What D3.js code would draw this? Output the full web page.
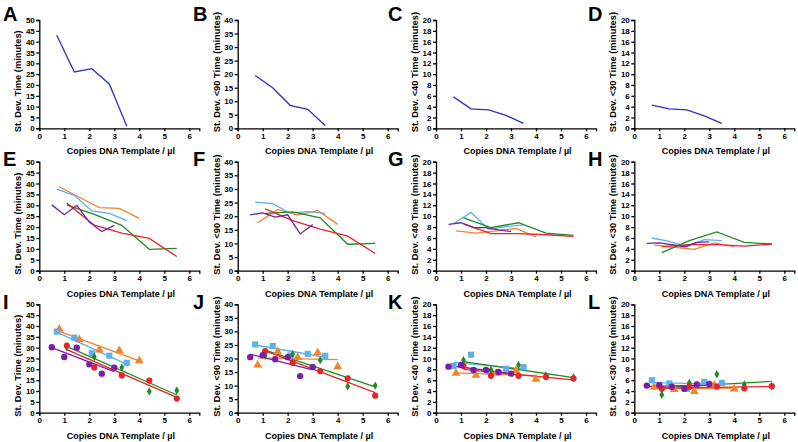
<!DOCTYPE html>
<html><head><meta charset="utf-8">
<script src="https://cdn.jsdelivr.net/npm/d3@7"></script>
<style>
body{margin:0;background:#fff;}
svg{display:block;font-family:"Liberation Sans",Arial,Helvetica,sans-serif;}
</style></head>
<body><svg id="c" width="798" height="442"></svg>
<script>
// ---- data ----
const xTicks = [0,1,2,3,4,5,6];
const yTitles = ["St. Dev. Time (minutes)","St. Dev. <90 Time (minutes)","St. Dev. <40 Time (minutes)","St. Dev. <30 Time (minutes)"];
const xTitle = "Copies DNA Template / µl";
const panelLetters = [["A","B","C","D"],["E","F","G","H"],["I","J","K","L"]];
const yMax = [50,40,20,20];
const yStep = [5,5,2,2];

// top row: single series
const singleX = [0.7,1.4,2.1,2.8,3.5];
const singleAll = [43,26,27.5,20.5,1];
const single90 = [19.5,15,8.5,7,1];
const single40 = [5.8,3.6,3.4,2.4,0.9];
const single30 = [4.3,3.6,3.4,2.3,0.9];

// five series (rows 2 and 3)
const seriesNames = ["orange","blue","green","red","purple"];
const orangeX = [0.8,1.6,2.4,3.2,4.0];
const blueX = [0.7,1.4,2.1,2.8,3.5];
const greenX = [1.1,2.2,3.3,4.4,5.5];
const redX = [1.1,2.2,3.3,4.4,5.5];
const purpleX = [0.5,1.0,1.5,2.0,2.5,3.0];

const orangeAll = [38.5,33.7,28.9,28.6,24.0];
const blueAll = [37.4,34.6,27.4,26.3,23.0];
const greenAll = [30.2,25.8,20.8,9.8,10.2];
const redAll = [31.0,20.9,17.2,14.8,6.5];
const purpleAll = [30.2,25.7,30.0,22.3,18.0,20.8];

const orange90 = [17.6,22.5,20.4,22.1,17.0];
const blue90 = [25.2,24.6,21.1,21.7,21.0];
const green90 = [21.0,21.6,19.4,9.7,10.0];
const red90 = [22.7,18.4,15.3,12.7,6.3];
const purple90 = [20.5,21.2,19.7,20.5,13.5,16.9];

const orange40 = [7.3,6.9,7.3,7.75,6.2];
const blue40 = [8.6,10.7,7.6,8.1,8.4];
const green40 = [9.7,7.9,8.8,6.9,6.5];
const red40 = [8.6,6.8,6.8,6.6,6.3];
const purple40 = [8.5,8.8,7.9,7.9,7.5,7.2];

const orange30 = [4.7,4.3,3.9,5.1,4.4];
const blue30 = [6.0,5.4,4.4,5.7,5.5];
const green30 = [3.3,5.5,7.1,5.2,4.9];
const red30 = [4.4,4.8,4.8,4.5,4.9];
const purple30 = [5.0,5.1,4.8,4.4,5.2,5.3];

// ---- styling ----
const singleColor = "#2f2fc4";
const colors = {orange:"#f5832b", blue:"#5cb0ec", green:"#1f8b25", red:"#e5242b", purple:"#7a1fa3"};
const symbols = {orange:d3.symbolTriangle, blue:d3.symbolSquare, green:d3.symbolDiamond, red:d3.symbolCircle, purple:d3.symbolCircle};
const symSize = {orange:34, blue:38, green:20, red:30, purple:32};

const colX = [39.3,237.7,436,634.3];
const rowTop = [20,161.7,304.3];
const rowBot = [128.3,270.7,412.7];
const letterX = [3,193,388,588];
const letterY = [21,166,309];
const xDomainMax = 6.4, pxPerUnit = 25;

const singleByCol = [singleAll,single90,single40,single30];
const multiByCol = [
  {orange:orangeAll,blue:blueAll,green:greenAll,red:redAll,purple:purpleAll},
  {orange:orange90,blue:blue90,green:green90,red:red90,purple:purple90},
  {orange:orange40,blue:blue40,green:green40,red:red40,purple:purple40},
  {orange:orange30,blue:blue30,green:green30,red:red30,purple:purple30}
];
const xsBySeries = {orange:orangeX,blue:blueX,green:greenX,red:redX,purple:purpleX};

const svg = d3.select("#c");

function fit(xs, ys){
  const mx = d3.mean(xs), my = d3.mean(ys);
  let num=0, den=0;
  xs.forEach((x,i)=>{num+=(x-mx)*(ys[i]-my); den+=(x-mx)*(x-mx);});
  const b = num/den, a = my - b*mx;
  return x => a + b*x;
}

for (let r=0;r<3;r++){
  for (let c=0;c<4;c++){
    const x = d3.scaleLinear().domain([0,xDomainMax]).range([colX[c], colX[c]+xDomainMax*pxPerUnit]);
    const y = d3.scaleLinear().domain([0,yMax[c]]).range([rowBot[r], rowTop[r]]);
    const g = svg.append("g");

    // axes
    const xa = g.append("g").attr("transform",`translate(0,${rowBot[r]})`)
      .call(d3.axisBottom(x).tickValues(xTicks).tickFormat(d3.format("d")).tickSizeOuter(0).tickSize(3).tickPadding(2));
    const yt = d3.range(0,yMax[c]+0.001,yStep[c]);
    const ya = g.append("g").attr("transform",`translate(${colX[c]},0)`)
      .call(d3.axisLeft(y).tickValues(yt).tickFormat(d3.format("d")).tickSizeOuter(0).tickSize(3).tickPadding(1.5));
    [xa,ya].forEach(a=>{
      a.selectAll("path,line").attr("stroke","#000").attr("stroke-width",1.3);
      a.selectAll("text").attr("font-size",8).attr("font-weight","bold").attr("fill","#000");
    });

    // titles
    g.append("text").attr("x",colX[c]+81.5).attr("y",rowBot[r]+26)
      .attr("text-anchor","middle").attr("font-size",9).attr("font-weight","bold").text(xTitle);
    g.append("text").attr("transform",`translate(${colX[c]-18},${rowBot[r]+4}) rotate(-90)`)
      .attr("text-anchor","start").attr("font-size",9.3).attr("font-weight","bold").text(yTitles[c]);
    g.append("text").attr("x",letterX[c]).attr("y",letterY[r])
      .attr("font-size",20).attr("font-weight","bold").text(panelLetters[r][c]);

    const line = d3.line().x(d=>x(d[0])).y(d=>y(d[1]));
    if (r===0){
      const pts = singleX.map((v,i)=>[v,singleByCol[c][i]]);
      g.append("path").attr("d",line(pts)).attr("fill","none").attr("stroke",singleColor).attr("stroke-width",1.3);
    } else if (r===1){
      seriesNames.forEach(s=>{
        const pts = xsBySeries[s].map((v,i)=>[v,multiByCol[c][s][i]]);
        g.append("path").attr("d",line(pts)).attr("fill","none").attr("stroke",colors[s]).attr("stroke-width",1.3);
      });
    } else {
      seriesNames.forEach(s=>{
        const xs = xsBySeries[s], ys = multiByCol[c][s];
        const f = fit(xs, ys);
        const ext = d3.extent(xs);
        g.append("path").attr("d",line([[ext[0],f(ext[0])],[ext[1],f(ext[1])]]))
          .attr("fill","none").attr("stroke",colors[s]).attr("stroke-width",1.3);
      });
      seriesNames.forEach(s=>{
        const xs = xsBySeries[s], ys = multiByCol[c][s];
        g.append("g").selectAll("path").data(xs.map((v,i)=>[v,ys[i]])).join("path")
          .attr("transform",d=>`translate(${x(d[0])},${y(d[1])})`)
          .attr("d",d3.symbol().type(symbols[s]).size(symSize[s]))
          .attr("fill",colors[s]);
      });
    }
  }
}
</script></body></html>
